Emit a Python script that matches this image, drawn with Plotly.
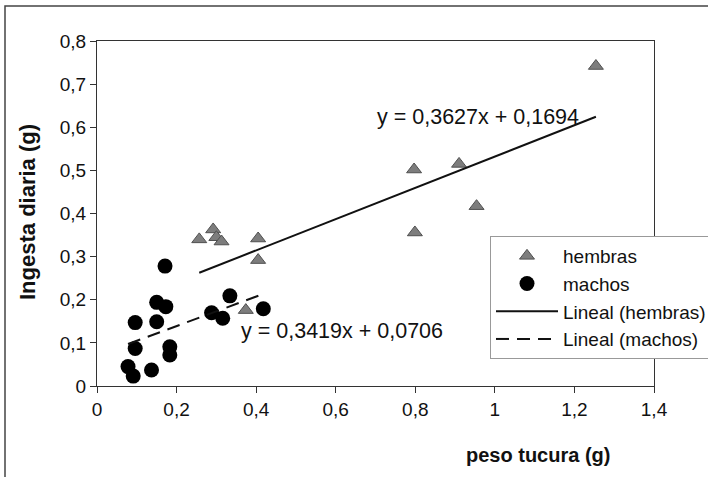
import plotly.graph_objects as go

# --- data ---
hembras_x = [0.257, 0.292, 0.300, 0.313, 0.374, 0.405, 0.405, 0.797, 0.799, 0.910, 0.954, 1.254]
hembras_y = [0.340, 0.363, 0.345, 0.335, 0.176, 0.342, 0.292, 0.502, 0.356, 0.515, 0.417, 0.742]

machos_x = [0.171, 0.150, 0.173, 0.096, 0.150, 0.096, 0.183, 0.183, 0.078, 0.091, 0.137,
            0.288, 0.316, 0.334, 0.418]
machos_y = [0.278, 0.194, 0.184, 0.147, 0.149, 0.087, 0.091, 0.072, 0.045, 0.023, 0.037,
            0.170, 0.157, 0.209, 0.179]

slope_h, icpt_h = 0.3627, 0.1694
slope_m, icpt_m = 0.3419, 0.0706

x_ticks = [0, 0.2, 0.4, 0.6, 0.8, 1.0, 1.2, 1.4]
y_ticks = [0, 0.1, 0.2, 0.3, 0.4, 0.5, 0.6, 0.7, 0.8]

eq_h = "y = 0,3627x + 0,1694"
eq_m = "y = 0,3419x + 0,0706"

FONT = "Liberation Sans, Arial, sans-serif"

# trend line extents from data
hx = [min(hembras_x), max(hembras_x)]
hy = [slope_h * v + icpt_h for v in hx]
mx = [min(machos_x), max(machos_x)]
my = [slope_m * v + icpt_m for v in mx]

fig = go.Figure()
fig.add_trace(go.Scatter(
    x=hembras_x, y=hembras_y, mode="markers", name="hembras",
    marker=dict(symbol="triangle-up", size=13, color="#7d7d7d",
                line=dict(color="#505050", width=1))))
fig.add_trace(go.Scatter(
    x=machos_x, y=machos_y, mode="markers", name="machos",
    marker=dict(symbol="circle", size=15, color="#000000")))
fig.add_trace(go.Scatter(
    x=hx, y=hy, mode="lines", name="Lineal (hembras)",
    line=dict(color="#111111", width=2)))
fig.add_trace(go.Scatter(
    x=mx, y=my, mode="lines", name="Lineal (machos)",
    line=dict(color="#111111", width=2, dash="13px,8px")))

fig.add_annotation(x=0.9575, y=0.624, xref="x", yref="y", text=eq_h, showarrow=False,
                   xanchor="center", yanchor="middle",
                   font=dict(family=FONT, size=21.5, color="#111111"))
fig.add_annotation(x=0.617, y=0.128, xref="x", yref="y", text=eq_m, showarrow=False,
                   xanchor="center", yanchor="middle",
                   font=dict(family=FONT, size=21.5, color="#111111"))

# axis titles
fig.add_annotation(x=(538 - 97) / 557, y=1 - (455 - 41) / 345, xref="paper", yref="paper",
                   text="<b>peso tucura (g)</b>", showarrow=False,
                   xanchor="center", yanchor="middle",
                   font=dict(family=FONT, size=20, color="#111111"))
fig.add_annotation(x=(27 - 97) / 557, y=1 - (212 - 41) / 345, xref="paper", yref="paper",
                   text="<b>Ingesta diaria (g)</b>", showarrow=False, textangle=-90,
                   xanchor="center", yanchor="middle",
                   font=dict(family=FONT, size=22, color="#111111"))

# chart-area frame (extends past the crop on right and bottom)
fig.add_shape(type="rect", xref="paper", yref="paper",
              x0=(5 - 97) / 557, x1=2.0, y0=-1.0, y1=1 + (41 - 6) / 345,
              line=dict(color="#444444", width=1.5), layer="below")

fig.update_layout(
    width=708, height=477,
    margin=dict(l=97, r=54, t=41, b=91, autoexpand=False),
    paper_bgcolor="white", plot_bgcolor="white",
    separators=",.",
    font=dict(family=FONT, size=19, color="#111111"),
    showlegend=True,
    legend=dict(x=(490 - 97) / 557, y=1 - (236 - 41) / 345, xanchor="left", yanchor="top",
                bgcolor="white", bordercolor="#999999", borderwidth=1,
                font=dict(family=FONT, size=19, color="#111111"),
                itemwidth=62, tracegroupgap=0),
    xaxis=dict(range=[0, 1.4], tickvals=x_ticks, showgrid=False, zeroline=False,
               showline=True, linecolor="#333333", linewidth=1, mirror=True,
               ticks="outside", ticklen=6, tickcolor="#333333", automargin=False),
    yaxis=dict(range=[0, 0.8], tickvals=y_ticks, showgrid=False, zeroline=False,
               showline=True, linecolor="#333333", linewidth=1, mirror=True,
               ticks="outside", ticklen=6, tickcolor="#333333", automargin=False),
)

fig.write_html("out.html", config={"displayModeBar": False},
               post_script="document.body.style.margin='0';document.body.style.overflow='hidden';")
